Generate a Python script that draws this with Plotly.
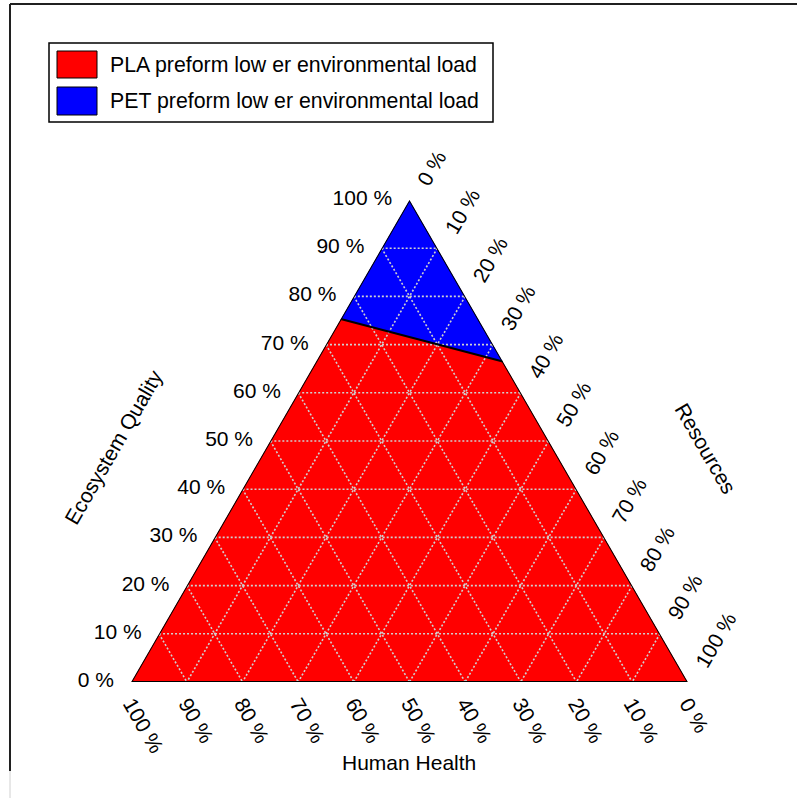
import plotly.graph_objects as go

# Ternary axes: Ecosystem Quality (a), Human Health (b), Resources (c), in percent
tick_values = [0, 10, 20, 30, 40, 50, 60, 70, 80, 90, 100]
tick_labels = ["0 %", "10 %", "20 %", "30 %", "40 %", "50 %",
               "60 %", "70 %", "80 %", "90 %", "100 %"]
grid_values = [10, 20, 30, 40, 50, 60, 70, 80, 90]

# Boundary between the two regions: end point on the left edge and on the right edge
boundary_eq = [75.3, 66.5]
boundary_hh = [24.7, 0.0]
boundary_res = [0.0, 33.5]

# PET region (top corner down to the boundary)
pet_eq = [100.0, boundary_eq[0], boundary_eq[1]]
pet_hh = [0.0, boundary_hh[0], boundary_hh[1]]
pet_res = [0.0, boundary_res[0], boundary_res[1]]

# PLA region (boundary down to the base of the triangle)
pla_eq = [boundary_eq[0], 0.0, 0.0, boundary_eq[1]]
pla_hh = [boundary_hh[0], 100.0, 0.0, boundary_hh[1]]
pla_res = [boundary_res[0], 0.0, 100.0, boundary_res[1]]

legend_labels = ["PLA preform low er environmental load",
                 "PET preform low er environmental load"]
region_colors = ["#FF0000", "#0000FF"]

FONT = "Liberation Sans, Arial, sans-serif"
W, H = 797, 798

fig = go.Figure()

fig.add_trace(go.Scatterternary(
    a=pla_eq, b=pla_hh, c=pla_res, mode="lines", fill="toself",
    fillcolor=region_colors[0], line=dict(width=0, color=region_colors[0]),
    hoverinfo="skip", showlegend=False))
fig.add_trace(go.Scatterternary(
    a=pet_eq, b=pet_hh, c=pet_res, mode="lines", fill="toself",
    fillcolor=region_colors[1], line=dict(width=0, color=region_colors[1]),
    hoverinfo="skip", showlegend=False))

# dotted grid drawn over the filled regions
grid_style = dict(color="#D0D0D0", width=1.6, dash="2px,2px")
for v in grid_values:
    rest = 100 - v
    fig.add_trace(go.Scatterternary(a=[v, v], b=[rest, 0], c=[0, rest], mode="lines",
                                    line=grid_style, hoverinfo="skip", showlegend=False))
    fig.add_trace(go.Scatterternary(a=[rest, 0], b=[v, v], c=[0, rest], mode="lines",
                                    line=grid_style, hoverinfo="skip", showlegend=False))
    fig.add_trace(go.Scatterternary(a=[rest, 0], b=[0, rest], c=[v, v], mode="lines",
                                    line=grid_style, hoverinfo="skip", showlegend=False))

# boundary line and triangle outline
fig.add_trace(go.Scatterternary(a=boundary_eq, b=boundary_hh, c=boundary_res, mode="lines",
                                line=dict(color="black", width=2), hoverinfo="skip",
                                showlegend=False))
fig.add_trace(go.Scatterternary(a=[100, 0, 0, 100], b=[0, 100, 0, 0], c=[0, 0, 100, 0],
                                mode="lines", line=dict(color="black", width=2),
                                hoverinfo="skip", showlegend=False))

axis_common = dict(
    tickmode="array", tickvals=tick_values, ticktext=tick_labels,
    ticks="outside", tickcolor="rgba(0,0,0,0)",
    showgrid=False, showline=False, tickfont=dict(family=FONT, size=21, color="black"),
    title=dict(text=""), min=0,
)

def px_x(x):
    return x / W

def px_y(y):
    return 1 - y / H

fig.update_layout(
    width=W, height=H,
    margin=dict(l=0, r=0, t=0, b=0),
    paper_bgcolor="white",
    showlegend=False,
    font=dict(family=FONT, size=21, color="black"),
    ternary=dict(
        sum=100,
        bgcolor="white",
        domain=dict(x=[px_x(131), px_x(688)], y=[px_y(682), px_y(200)]),
        aaxis=dict(**axis_common, ticklen=14),
        baxis=dict(**axis_common, ticklen=0, tickangle=60),
        caxis=dict(**axis_common, ticklen=14, tickangle=-60),
    ),
)

shapes = []
annotations = []

# outer frame
shapes.append(dict(type="line", xref="paper", yref="paper", x0=px_x(10), x1=px_x(797),
                   y0=px_y(4), y1=px_y(4), line=dict(color="#202020", width=2)))
shapes.append(dict(type="line", xref="paper", yref="paper", x0=px_x(10), x1=px_x(10),
                   y0=px_y(4), y1=px_y(771), line=dict(color="#202020", width=2)))
shapes.append(dict(type="line", xref="paper", yref="paper", x0=px_x(10), x1=px_x(10),
                   y0=px_y(771), y1=px_y(798), line=dict(color="#D0D0D0", width=1)))

# legend box with swatches
shapes.append(dict(type="rect", xref="paper", yref="paper", x0=px_x(49), x1=px_x(493),
                   y0=px_y(122), y1=px_y(43), line=dict(color="black", width=1.5),
                   fillcolor="white"))
swatch_rows = [(51, 78, 65), (87, 115, 101)]
for (top, bottom, mid), label, color in zip(swatch_rows, legend_labels, region_colors):
    shapes.append(dict(type="rect", xref="paper", yref="paper", x0=px_x(57), x1=px_x(97),
                       y0=px_y(bottom), y1=px_y(top), line=dict(color="black", width=1),
                       fillcolor=color))
    annotations.append(dict(text=label, xref="paper", yref="paper", x=px_x(108),
                            y=px_y(mid), xanchor="left", yanchor="middle",
                            showarrow=False, font=dict(family=FONT, size=21.3)))

# axis titles along the triangle edges
annotations.append(dict(text="Ecosystem Quality", xref="paper", yref="paper",
                        x=px_x(113), y=px_y(447), textangle=-60, showarrow=False,
                        xanchor="center", yanchor="middle", font=dict(family=FONT, size=21)))
annotations.append(dict(text="Resources", xref="paper", yref="paper",
                        x=px_x(706), y=px_y(448), textangle=60, showarrow=False,
                        xanchor="center", yanchor="middle", font=dict(family=FONT, size=21)))
annotations.append(dict(text="Human Health", xref="paper", yref="paper",
                        x=px_x(408.5), y=px_y(762), showarrow=False,
                        xanchor="center", yanchor="middle", font=dict(family=FONT, size=21)))

fig.update_layout(shapes=shapes, annotations=annotations)

fig.write_html("out.html")
